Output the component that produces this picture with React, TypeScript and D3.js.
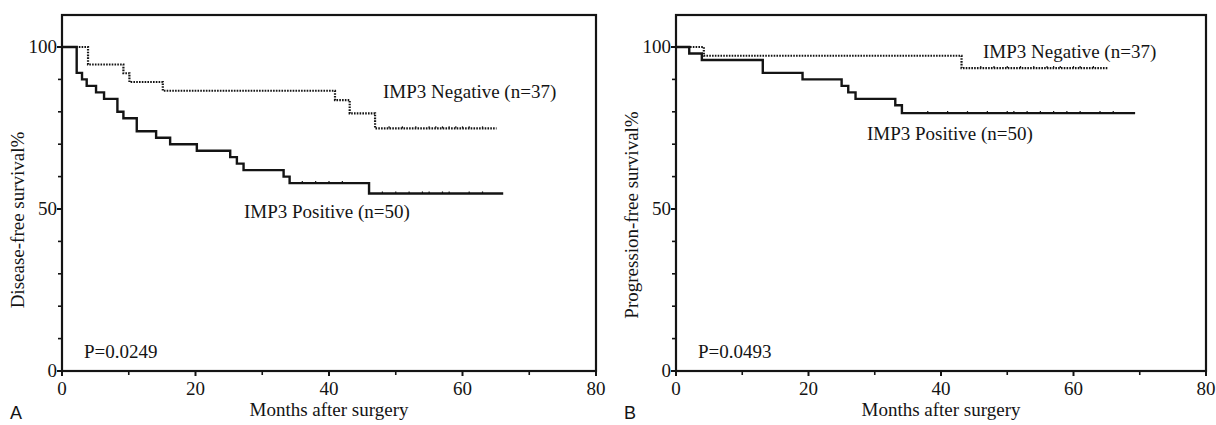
import React from "react";
import * as d3 from "d3";

// Kaplan-Meier step points (months, survival %)
const dfsPosTimes = [0, 2.2, 3.0, 3.7, 5.1, 6.3, 8.3, 9.2, 11.2, 14.1, 16.2, 20.2, 25.2, 26.2, 27.2, 33.2, 34.1, 46.0, 66.1];
const dfsPosSurv = [100, 92, 90, 88, 86, 84, 80, 78, 74, 72, 70, 68, 66, 64, 62, 60, 58, 54.8, 54.8];
const dfsNegTimes = [0, 3.9, 9.2, 10.1, 15.1, 40.9, 43.1, 46.9, 65.1];
const dfsNegSurv = [100, 94.6, 91.9, 89.2, 86.5, 83.6, 79.5, 74.9, 74.9];

const pfsPosTimes = [0, 2.0, 3.9, 13.1, 19.1, 25.0, 26.0, 27.1, 33.1, 34.1, 69.3];
const pfsPosSurv = [100, 98, 96, 92, 90, 88, 86, 84, 82, 79.6, 79.6];
const pfsNegTimes = [0, 4.2, 43.1, 65.2];
const pfsNegSurv = [100, 97.3, 93.5, 93.5];

// censored observations (months)
const dfsPosCensor = [36, 38, 40, 42, 48, 50, 52, 54, 55, 57, 58, 61, 63];
const dfsNegCensor = [49, 51, 53, 55, 56, 57, 58, 59, 60, 61, 63];
const pfsPosCensor = [38, 41, 44, 47, 50, 51, 53, 55, 57, 59, 61, 64, 66];
const pfsNegCensor = [46, 48, 50, 52, 54, 56, 57, 58, 60, 61, 63];

const xTicks = [0, 20, 40, 60, 80];
const xMinor = [10, 30, 50, 70];
const yTicks = [0, 50, 100];
const yMinor = [10, 20, 30, 40, 60, 70, 80, 90];

const serif = "'Liberation Serif', 'Times New Roman', serif";
const ink = "#141414";

type Series = { times: number[]; surv: number[]; censor: number[] };

type PanelProps = {
  x0: number;
  x1: number;
  letter: string;
  yLabel: string;
  yLabelY: number;
  pValue: string;
  pos: Series;
  neg: Series;
  posLabel: [number, number];
  negLabel: [number, number];
};

const top = 15;
const y0 = 371;

const Panel = ({ x0, x1, letter, yLabel, yLabelY, pValue, pos, neg, posLabel, negLabel }: PanelProps) => {
  const x = d3.scaleLinear().domain([0, 80]).range([x0, x1]);
  const y = d3.scaleLinear().domain([0, 100]).range([y0, 47]);
  const line = d3
    .line<[number, number]>()
    .x((d) => x(d[0]))
    .y((d) => y(d[1]))
    .curve(d3.curveStepAfter);

  const pts = (s: Series) => s.times.map((t, i) => [t, s.surv[i]] as [number, number]);
  const valueAt = (s: Series, t: number) => {
    const i = d3.bisectRight(s.times, t) - 1;
    return s.surv[Math.max(0, i)];
  };

  return (
    <g>
      {/* frame */}
      <rect x={x0} y={top} width={x1 - x0} height={y0 - top} fill="none" stroke={ink} strokeWidth={2.2} />

      {/* y ticks */}
      {yTicks.map((t) => (
        <g key={"y" + t}>
          <line x1={x0 - 5} x2={x0} y1={y(t)} y2={y(t)} stroke={ink} strokeWidth={2} />
          <text x={x0 - 5} y={y(t)} dy="0.34em" textAnchor="end" fontSize={19} fontFamily={serif} fill={ink}>
            {t}
          </text>
        </g>
      ))}
      {yMinor.map((t) => (
        <line key={"ym" + t} x1={x0 - 4} x2={x0} y1={y(t)} y2={y(t)} stroke={ink} strokeWidth={1.6} />
      ))}

      {/* x ticks */}
      {xTicks.map((t) => (
        <g key={"x" + t}>
          <line x1={x(t)} x2={x(t)} y1={y0} y2={y0 + 5} stroke={ink} strokeWidth={2} />
          <text x={x(t)} y={y0 + 24} textAnchor="middle" fontSize={19} fontFamily={serif} fill={ink}>
            {t}
          </text>
        </g>
      ))}
      {xMinor.map((t) => (
        <line key={"xm" + t} x1={x(t)} x2={x(t)} y1={y0} y2={y0 + 4} stroke={ink} strokeWidth={1.6} />
      ))}

      {/* curves */}
      <path d={line(pts(neg)) || ""} fill="none" stroke={ink} strokeWidth={2.2} strokeDasharray="1.6,1.2" />
      <path d={line(pts(pos)) || ""} fill="none" stroke={ink} strokeWidth={2.4} />
      {pos.censor.map((t) => (
        <line key={"cp" + t} x1={x(t)} x2={x(t)} y1={y(valueAt(pos, t)) - 2} y2={y(valueAt(pos, t))} stroke={ink} strokeWidth={1.2} />
      ))}
      {neg.censor.map((t) => (
        <line key={"cn" + t} x1={x(t)} x2={x(t)} y1={y(valueAt(neg, t)) - 2} y2={y(valueAt(neg, t))} stroke={ink} strokeWidth={1.2} />
      ))}

      {/* annotations */}
      <text x={negLabel[0]} y={negLabel[1]} fontSize={19} fontFamily={serif} fill={ink}>
        IMP3 Negative (n=37)
      </text>
      <text x={posLabel[0]} y={posLabel[1]} fontSize={19} fontFamily={serif} fill={ink}>
        IMP3 Positive (n=50)
      </text>
      <text x={x0 + 22} y={358} fontSize={19} fontFamily={serif} fill={ink}>
        {pValue}
      </text>

      {/* axis titles */}
      <text x={(x0 + x1) / 2} y={416} textAnchor="middle" fontSize={19} fontFamily={serif} fill={ink}>
        Months after surgery
      </text>
      <text
        transform={`translate(${x0 - 38},${yLabelY}) rotate(-90)`}
        textAnchor="middle"
        fontSize={19}
        fontFamily={serif}
        fill={ink}
      >
        {yLabel}
      </text>
      <text x={x0 - 52} y={419} fontSize={18} fontFamily="'Liberation Sans', Arial, sans-serif" fill={ink}>
        {letter}
      </text>
    </g>
  );
};

export default function App() {
  return (
    <svg
      width={1216}
      height={425}
      style={{ position: "absolute", left: 0, top: 0, background: "#fff" }}
    >
      <Panel
        x0={62}
        x1={596}
        letter="A"
        yLabel="Disease-free survival%"
        yLabelY={220}
        pValue="P=0.0249"
        pos={{ times: dfsPosTimes, surv: dfsPosSurv, censor: dfsPosCensor }}
        neg={{ times: dfsNegTimes, surv: dfsNegSurv, censor: dfsNegCensor }}
        posLabel={[244, 218]}
        negLabel={[383, 98]}
      />
      <Panel
        x0={676}
        x1={1206}
        letter="B"
        yLabel="Progression-free survival%"
        yLabelY={215}
        pValue="P=0.0493"
        pos={{ times: pfsPosTimes, surv: pfsPosSurv, censor: pfsPosCensor }}
        neg={{ times: pfsNegTimes, surv: pfsNegSurv, censor: pfsNegCensor }}
        posLabel={[867, 140]}
        negLabel={[983, 58]}
      />
    </svg>
  );
}
